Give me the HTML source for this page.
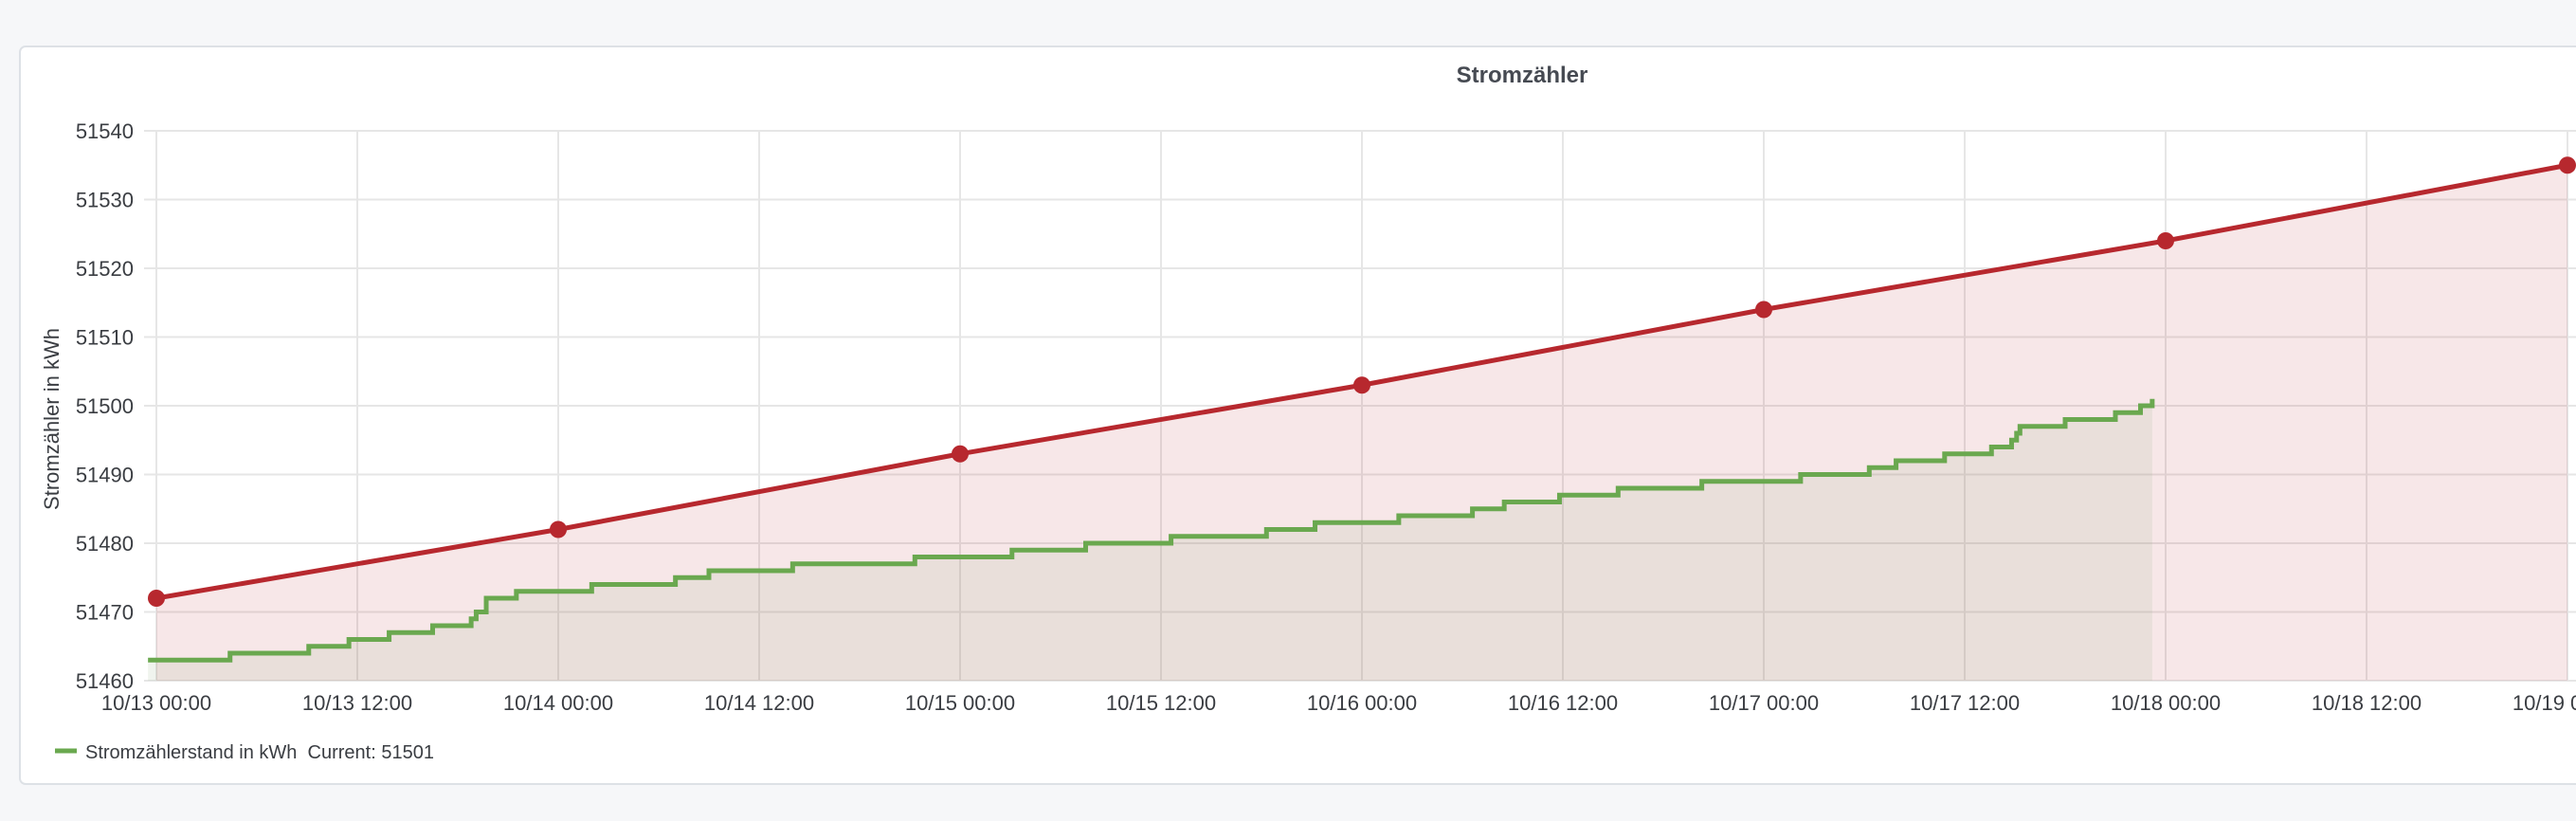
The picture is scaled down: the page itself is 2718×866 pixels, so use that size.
<!DOCTYPE html>
<html><head><meta charset="utf-8"><style>
html,body{margin:0;padding:0;background:#f6f7f9;width:2718px;height:866px;overflow:hidden}
svg{display:block;font-family:"Liberation Sans",sans-serif}
</style></head><body>
<svg id="chart" width="2718" height="866">
<rect x="21" y="49" width="2720" height="778" rx="6" fill="#fff" stroke="#dde1e6" stroke-width="2"/>
<text x="1606" y="87" text-anchor="middle" font-size="24" font-weight="bold" fill="#464a52">Stromzähler</text>
<text transform="translate(62,442) rotate(-90)" text-anchor="middle" font-size="22" fill="#3a3d42">Stromzähler in kWh</text>
<g id="grid"></g>
<g id="series"></g>
<g id="legend">
<line x1="58" y1="792" x2="81" y2="792" stroke="#6aa84f" stroke-width="5"/>
<text x="90" y="800" font-size="20" fill="#3a3d42">Stromzählerstand in kWh&#160;&#160;Current: 51501</text>
</g>
</svg>
<script>
const yTicks=[51460,51470,51480,51490,51500,51510,51520,51530,51540];
const xTickLabels=["10/13 00:00","10/13 12:00","10/14 00:00","10/14 12:00","10/15 00:00","10/15 12:00","10/16 00:00","10/16 12:00","10/17 00:00","10/17 12:00","10/18 00:00","10/18 12:00","10/19 00:00"];
const redHours=[0,24,48,72,96,120,144];
const redValues=[51472,51482,51493,51503,51514,51524,51535];
const greenHours=[-0.5,4.4,9.1,11.5,13.9,16.5,18.8,19.1,19.7,21.5,21.9,26,31,33,38,45.3,51.1,55.5,60.6,66.3,69.2,74.2,78.6,80.5,83.8,87.3,92.3,98.2,102.3,103.9,106.8,109.6,110.8,111.1,111.3,114,117,118.5,118.8,119.2];
const greenValues=[51463,51464,51465,51466,51467,51468,51469,51470,51472,51473,51473,51474,51475,51476,51477,51478,51479,51480,51481,51482,51483,51484,51485,51486,51487,51488,51489,51490,51491,51492,51493,51494,51495,51496,51497,51498,51499,51500,51500,51501];
const NS="http://www.w3.org/2000/svg";
const x0=165,pxPerHour=424/24,y0=718,pxPerUnit=580/80,yMin=51460;
const X=h=>x0+h*pxPerHour, Y=v=>y0-(v-yMin)*pxPerUnit;
function mk(tag,attrs,parent){const e=document.createElementNS(NS,tag);for(const k in attrs)e.setAttribute(k,attrs[k]);parent.appendChild(e);return e;}
const grid=document.getElementById('grid'),ser=document.getElementById('series');
yTicks.forEach(v=>{
 const l=mk('line',{x1:152,x2:2718,y1:Y(v),y2:Y(v),stroke:'#e6e6e6','stroke-width':2},grid);
 
 
 const t=mk('text',{x:141,y:Y(v)+8,'text-anchor':'end','font-size':22,fill:'#3a3d42'},grid);
 t.textContent=v;
 
 
});
xTickLabels.forEach((s,i)=>{
 const x=X(i*12);
 const l=mk('line',{x1:x,x2:x,y1:138,y2:718,stroke:'#e6e6e6','stroke-width':2},grid);
 
 
 const t=mk('text',{x:x,y:749,'text-anchor':'middle','font-size':22,fill:'#3a3d42'},grid);
 t.textContent=s;
 
 
});
// red series
let rp=redHours.map((h,i)=>X(h)+','+Y(redValues[i])).join(' L');
const ra=mk('path',{d:'M'+X(redHours[0])+','+y0+' L'+rp+' L'+X(redHours[redHours.length-1])+','+y0+' Z',fill:'rgba(183,40,50,0.11)'},ser);


// green series step
let gd=[];
greenHours.forEach((h,i)=>{if(i>0)gd.push(X(h)+','+Y(greenValues[i-1]));gd.push(X(h)+','+Y(greenValues[i]));});
const gx0=X(greenHours[0]),gx1=X(greenHours[greenHours.length-1]);
const ga=mk('path',{d:'M'+gx0+','+y0+' L'+gd.join(' L')+' L'+gx1+','+y0+' Z',fill:'rgba(140,170,120,0.13)'},ser);


const gl=mk('path',{d:'M'+gd.join(' L'),fill:'none',stroke:'#6aa84f','stroke-width':5},ser);


const rl=mk('path',{d:'M'+rp,fill:'none',stroke:'#b7282e','stroke-width':5},ser);


redHours.forEach((h,i)=>{
 const c=mk('circle',{cx:X(h),cy:Y(redValues[i]),r:9,fill:'#b7282e'},ser);
 
 
});
</script>
</body></html>
